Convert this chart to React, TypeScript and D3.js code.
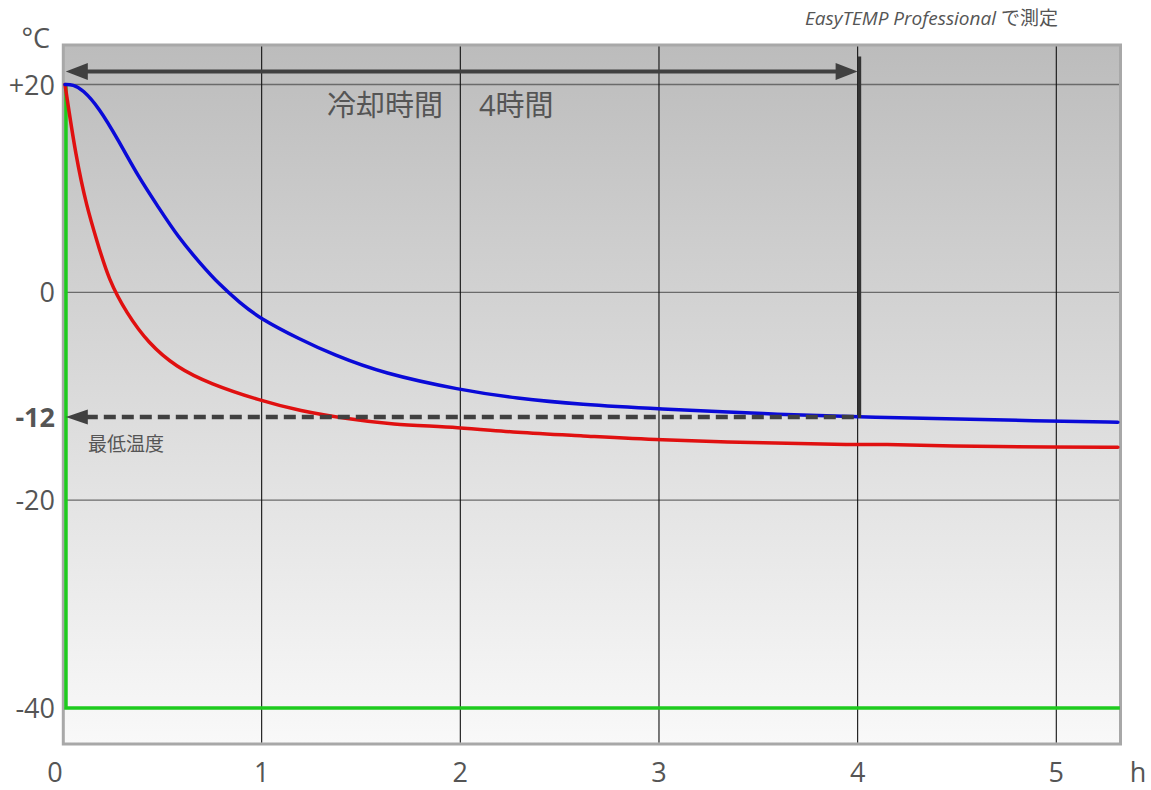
import React from "react";
import * as d3 from "d3";

// hours, °C
const blueHours = [0.01, 0.05, 0.1, 0.18, 0.28, 0.38, 0.48, 0.58, 0.69, 0.79, 0.89, 0.99, 1.19, 1.36, 1.61, 2.0, 2.28, 2.61, 2.99, 3.54, 4.0, 5.0, 5.31];
const blueTemps = [20, 20, 19.5, 17.8, 14.6, 11.1, 8.2, 5.3, 2.8, 0.7, -1.0, -2.5, -4.5, -6.0, -7.8, -9.4, -10.2, -10.8, -11.2, -11.7, -12.0, -12.4, -12.5];

const redHours = [0.01, 0.065, 0.12, 0.17, 0.23, 0.32, 0.43, 0.57, 0.74, 0.99, 1.19, 1.44, 1.64, 2.0, 2.28, 2.61, 2.99, 3.54, 4.0, 4.11, 4.45, 5.0, 5.31];
const redTemps = [20, 13.0, 8.2, 5.0, 1.2, -2.0, -4.9, -7.2, -8.8, -10.4, -11.4, -12.2, -12.7, -13.0, -13.5, -13.8, -14.2, -14.5, -14.7, -14.6, -14.8, -14.9, -14.9];

const greenHours = [0.015, 0.015, 5.32];
const greenTemps = [20, -40, -40];

const xTicks = [0, 1, 2, 3, 4, 5];
const yGrid = [20, 0, -20, -40];
const yTicks = [20, 0, -12, -20, -40];
const yTickLabels = ["+20", "0", "-12", "-20", "-40"];

const coolingHours = 4;
const minTemp = -12;
const arrowTemp = 21.25;

const W = 1151;
const H = 790;
const frame = { left: 63.3, top: 45, right: 1120.5, bottom: 744 };
const FONT = "'Open Sans', 'Noto Sans CJK JP', sans-serif";
const TEXT = "#555";
const DARK = "#404040";

const x = d3.scaleLinear().domain([0, 5]).range([63, 1056.3]);
const y = d3.scaleLinear().domain([-40, 20]).range([708, 84.5]);

const toPts = (hs: number[], ts: number[]) => hs.map((h, i) => [h, ts[i]] as [number, number]);

const smooth = d3
  .line<[number, number]>()
  .x((d) => x(d[0]))
  .y((d) => y(d[1]))
  .curve(d3.curveBasis);

const straight = d3
  .line<[number, number]>()
  .x((d) => x(d[0]))
  .y((d) => y(d[1]));

export default function App() {
  const innerL = frame.left + 1.5;
  const innerR = frame.right - 1.5;
  const innerT = frame.top + 1.5;
  const innerB = frame.bottom - 1.5;

  const ay = y(arrowTemp);
  const my = y(minTemp);
  const x0 = innerL + 1;
  const x4 = x(coolingHours);

  return (
    <div style={{ position: "absolute", left: 0, top: 0 }}>
      <svg width={W} height={H} style={{ display: "block", background: "#fff" }}>
        <defs>
          <linearGradient id="bg" x1="0" y1="0" x2="0" y2="1">
            <stop offset="0" stopColor="#bcbcbc" />
            <stop offset="1" stopColor="#f9f9f9" />
          </linearGradient>
        </defs>

        <rect
          x={frame.left}
          y={frame.top}
          width={frame.right - frame.left}
          height={frame.bottom - frame.top}
          fill="url(#bg)"
          stroke="#a8a8a8"
          strokeWidth={3}
        />

        {/* grid */}
        {yGrid.map((t) => (
          <line key={"h" + t} x1={innerL} x2={innerR} y1={y(t)} y2={y(t)} stroke="#6a6a6a" strokeWidth={1.3} />
        ))}
        {xTicks.slice(1).map((h) => (
          <line key={"v" + h} x1={x(h)} x2={x(h)} y1={innerT} y2={innerB} stroke="#111" strokeWidth={1.1} />
        ))}

        {/* curves */}
        <path d={straight(toPts(greenHours, greenTemps)) || ""} fill="none" stroke="#1ecb1e" strokeWidth={3.5} />
        <path d={smooth(toPts(redHours, redTemps)) || ""} fill="none" stroke="#e01010" strokeWidth={3.5} strokeLinecap="round" />
        <path d={smooth(toPts(blueHours, blueTemps)) || ""} fill="none" stroke="#0a0ad8" strokeWidth={3.5} strokeLinecap="round" />

        {/* cooling time arrow */}
        <line x1={x0 + 18} x2={x4 - 18} y1={ay} y2={ay} stroke={DARK} strokeWidth={4} />
        <polygon points={`${x0},${ay} ${x0 + 22},${ay - 8.5} ${x0 + 22},${ay + 8.5}`} fill={DARK} />
        <polygon points={`${x4},${ay} ${x4 - 22},${ay - 8.5} ${x4 - 22},${ay + 8.5}`} fill={DARK} />
        <line x1={x4 + 1.8} x2={x4 + 1.8} y1={y(22.7)} y2={my + 1} stroke="#333" strokeWidth={3.5} />

        {/* minimum temperature arrow */}
        <line x1={x0 + 20} x2={x4} y1={my} y2={my} stroke={DARK} strokeWidth={4.5} strokeDasharray="12 6" />
        <polygon points={`${x0},${my} ${x0 + 22},${my - 7.5} ${x0 + 22},${my + 7.5}`} fill={DARK} />

        <text y={116} fontFamily={FONT} fontSize={29} fill={TEXT}>
          <tspan x={327}>冷却時間</tspan>
          <tspan x={479}>4時間</tspan>
        </text>
        <text x={88} y={451} fontFamily={FONT} fontSize={19} fill={TEXT}>
          最低温度
        </text>
        <text x={1058} y={25} textAnchor="end" fontFamily={FONT} fontSize={19} fill={TEXT}>
          <tspan fontStyle="italic">EasyTEMP Professional</tspan> で測定
        </text>

        {/* axes labels */}
        <text x={50} y={48} textAnchor="end" fontFamily={FONT} fontSize={27} fill={TEXT}>
          °C
        </text>
        {yTicks.map((t, i) => (
          <text
            key={"yl" + t}
            x={55}
            y={y(t) + 10}
            textAnchor="end"
            fontFamily={FONT}
            fontSize={27}
            fontWeight={t === minTemp ? 700 : 400}
            fill={TEXT}
          >
            {yTickLabels[i]}
          </text>
        ))}
        {xTicks.map((h) => (
          <text
            key={"xl" + h}
            x={h === 0 ? x(h) - 8 : x(h)}
            y={782}
            textAnchor="middle"
            fontFamily={FONT}
            fontSize={27}
            fill={TEXT}
          >
            {h}
          </text>
        ))}
        <text x={1138} y={782} textAnchor="middle" fontFamily={FONT} fontSize={27} fill={TEXT}>
          h
        </text>
      </svg>
    </div>
  );
}
